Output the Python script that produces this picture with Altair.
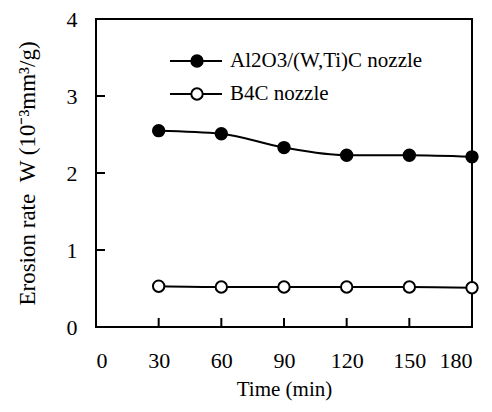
import altair as alt
import pandas as pd

time_min = [30, 60, 90, 120, 150, 180]
al2o3_wtic = [2.55, 2.51, 2.33, 2.23, 2.23, 2.21]
b4c = [0.53, 0.52, 0.52, 0.52, 0.52, 0.51]
series_names = ["Al2O3/(W,Ti)C nozzle", "B4C nozzle"]
x_ticks = [0, 30, 60, 90, 120, 150, 180]
y_ticks = [0, 1, 2, 3, 4]

FONT = "Liberation Serif"
H = 308

df = pd.DataFrame({
    "t": time_min * 2,
    "w": al2o3_wtic + b4c,
    "s": [series_names[0]] * 6 + [series_names[1]] * 6,
})

xs = alt.Scale(domain=[0, 180], nice=False)
ys = alt.Scale(domain=[0, 4], nice=False)
fill_scale = alt.Scale(domain=series_names, range=["black", "white"])

base = alt.Chart(df)

line = base.mark_line(color="black", strokeWidth=2, interpolate="monotone").encode(
    x=alt.X("t:Q", scale=xs,
            axis=alt.Axis(title="Time (min)", values=x_ticks, format="d", tickSize=0, domain=False,
                          grid=False, labelPadding=23, titlePadding=7, titleFontSize=21)),
    y=alt.Y("w:Q", scale=ys,
            axis=alt.Axis(title="Erosion rate\u00a0\u00a0W (10⁻³mm³/g)", values=y_ticks, format="d",
                          tickSize=0, domain=False, grid=False, labelPadding=19, titlePadding=27,
                          titleFontSize=23)),
    detail="s:N",
)

pts = base.mark_point(filled=True, size=130, strokeWidth=2, opacity=1).encode(
    x=alt.X("t:Q", scale=xs),
    y=alt.Y("w:Q", scale=ys),
    fill=alt.Fill("s:N", scale=fill_scale, legend=None),
    stroke=alt.value("black"),
)

# inward tick marks
xt = alt.Chart(pd.DataFrame({"v": x_ticks[1:]})).mark_rule(color="black", strokeWidth=2).encode(
    x=alt.X("v:Q", scale=xs), y=alt.value(H), y2=alt.value(H - 9))
yt = alt.Chart(pd.DataFrame({"v": y_ticks[1:-1]})).mark_rule(color="black", strokeWidth=2).encode(
    y=alt.Y("v:Q", scale=ys), x=alt.value(0), x2=alt.value(9))

# custom legend (one row per series)
legend_layers = []
for i, name in enumerate(series_names):
    ld = pd.DataFrame({"s": [name]})
    yy = 42 + 33 * i
    legend_layers.append(alt.Chart(ld).mark_rule(color="black", strokeWidth=2).encode(
        x=alt.value(74), x2=alt.value(126), y=alt.value(yy)))
    legend_layers.append(alt.Chart(ld).mark_point(filled=True, size=130, strokeWidth=2, opacity=1).encode(
        x=alt.value(101), y=alt.value(yy),
        fill=alt.Fill("s:N", scale=fill_scale, legend=None),
        stroke=alt.value("black")))
    legend_layers.append(alt.Chart(ld).mark_text(align="left", baseline="middle", font=FONT,
                                                 fontSize=21, color="black").encode(
        x=alt.value(134), y=alt.value(yy), text="s:N"))

chart = alt.layer(line, xt, yt, pts, *legend_layers).properties(
    width=376, height=H,
    autosize=alt.AutoSizeParams(type="none"),
    padding={"left": 88, "top": 11, "right": 12, "bottom": 76},
    background="white",
).configure_view(stroke="black", strokeWidth=2).configure_axis(
    labelFont=FONT, titleFont=FONT, labelFontSize=22,
    labelColor="black", titleColor="black", titleFontWeight="normal",
)

chart.save("out.html", embed_options={"renderer": "svg", "actions": False})
